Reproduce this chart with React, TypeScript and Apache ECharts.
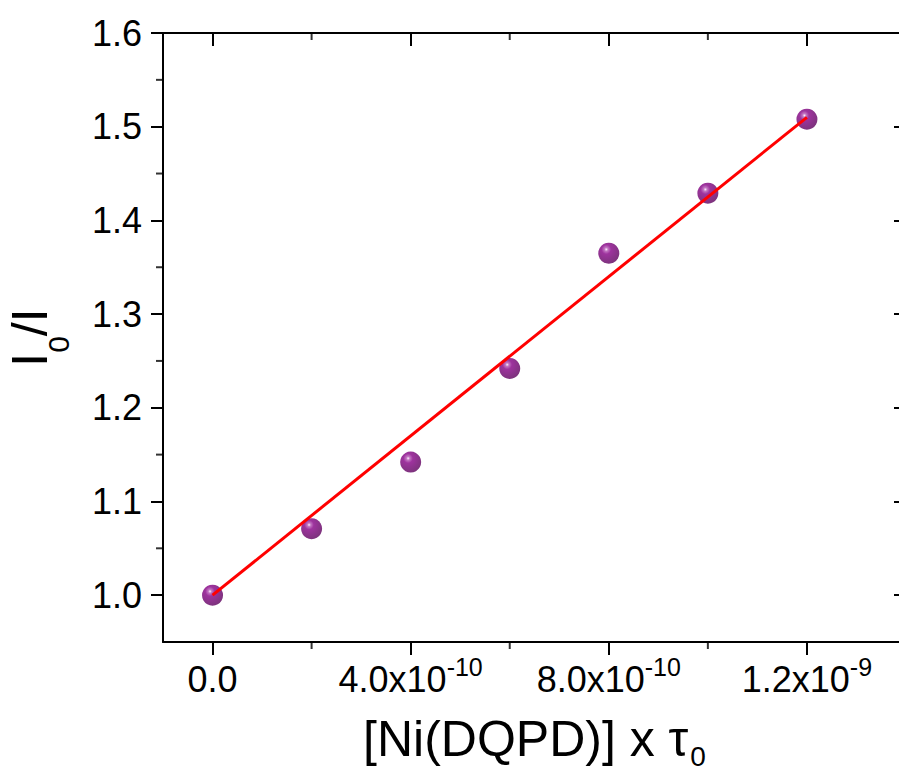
import React, { useEffect, useRef } from "react";
import * as echarts from "echarts";

// Data (x = [Ni(DQPD)] x tau0, y = I0/I)
const xValues = [0, 2e-10, 4e-10, 6e-10, 8e-10, 1.0e-9, 1.2e-9];
const yValues = [1.0, 1.071, 1.142, 1.242, 1.365, 1.429, 1.508];

// Linear fit endpoints
const fitX = [0, 1.2e-9];
const fitY = [1.0, 1.51];

// Axis ranges and ticks
const xRange = [-1e-10, 1.4e-9];
const yRange = [0.95, 1.6];
const xMajorTicks = [0, 4e-10, 8e-10, 1.2e-9];
const xMinorTicks = [2e-10, 6e-10, 1.0e-9];
const xTickMantissa = ["0.0", "4.0x10", "8.0x10", "1.2x10"];
const xTickExponent = ["", "-10", "-10", "-9"];
const yMajorTicks = [1.0, 1.1, 1.2, 1.3, 1.4, 1.5, 1.6];
const yMinorTicks = [1.05, 1.15, 1.25, 1.35, 1.45, 1.55];

const FONT = "'Liberation Sans', Arial, sans-serif";

export default function App() {
  const ref = useRef<HTMLDivElement>(null);

  useEffect(() => {
    if (!ref.current) return;
    const chart = echarts.init(ref.current, null, { renderer: "svg" });

    const lineStyle = { color: "#000", width: 2 };
    const MINOR = 7;

    const xLabelFormatter = (v: number) => {
      let idx = 0;
      let best = Infinity;
      xMajorTicks.forEach((t, i) => {
        const d = Math.abs(t - v);
        if (d < best) {
          best = d;
          idx = i;
        }
      });
      const m = xTickMantissa[idx];
      const e = xTickExponent[idx];
      return e ? `{m|${m}}{s|${e}}` : `{m|${m}}`;
    };

    const sphere = new echarts.graphic.RadialGradient(0.38, 0.32, 0.7, [
      { offset: 0, color: "#fbeefb" },
      { offset: 0.12, color: "#b455b4" },
      { offset: 0.32, color: "#850085" },
      { offset: 1, color: "#5c005c" },
    ]);

    const baseX = { type: "value", min: xRange[0], max: xRange[1], splitLine: { show: false } };
    const baseY = { type: "value", min: yRange[0], max: yRange[1], splitLine: { show: false } };

    const tickSeries = (data: number[][], size: number[], offset: number[]) => ({
      type: "scatter",
      xAxisIndex: 0,
      yAxisIndex: 0,
      clip: false,
      silent: true,
      symbol: "rect",
      symbolSize: size,
      symbolOffset: offset,
      itemStyle: { color: "#000" },
      data,
      z: 1,
    });

    const option: any = {
      animation: false,
      backgroundColor: "#fff",
      grid: {
        left: 163,
        top: 33,
        width: 743,
        height: 609,
        containLabel: false,
        outerBoundsMode: "none",
      },
      xAxis: [
        {
          ...baseX,
          position: "bottom",
          axisLine: { show: true, onZero: false, lineStyle },
          axisTick: { show: true, inside: false, length: 13, customValues: xMajorTicks, lineStyle },
          axisLabel: {
            show: true,
            customValues: xMajorTicks,
            margin: 19,
            formatter: xLabelFormatter,
            rich: {
              m: { fontFamily: FONT, fontSize: 36, color: "#000", lineHeight: 36, verticalAlign: "bottom" },
              s: { fontFamily: FONT, fontSize: 25, color: "#000", lineHeight: 25, verticalAlign: "bottom", padding: [0, 0, 18, 0] },
            },
          },
          name: "{m|[Ni(DQPD)] x τ}{s|0}",
          nameLocation: "middle",
          nameGap: 72,
          nameTextStyle: {
            rich: {
              m: { fontFamily: FONT, fontSize: 50, color: "#000", lineHeight: 50, verticalAlign: "top" },
              s: { fontFamily: FONT, fontSize: 28, color: "#000", lineHeight: 28, verticalAlign: "top", padding: [28, 0, 0, 2] },
            },
          },
        },
        {
          ...baseX,
          position: "top",
          axisLine: { show: true, onZero: false, lineStyle },
          axisTick: { show: true, inside: true, length: 13, customValues: xMajorTicks, lineStyle },
          axisLabel: { show: false },
        },
      ],
      yAxis: [
        {
          ...baseY,
          position: "left",
          axisLine: { show: true, onZero: false, lineStyle },
          axisTick: { show: true, inside: false, length: 12, customValues: yMajorTicks, lineStyle },
          axisLabel: {
            show: true,
            customValues: yMajorTicks,
            margin: 21,
            fontFamily: FONT,
            fontSize: 36,
            color: "#000",
            formatter: (v: number) => v.toFixed(1),
          },
          name: "{m|I}{s|0}{m|/I}",
          nameLocation: "middle",
          nameRotate: 90,
          nameGap: 108,
          nameTextStyle: {
            rich: {
              m: { fontFamily: FONT, fontSize: 50, color: "#000", lineHeight: 50, verticalAlign: "top" },
              s: { fontFamily: FONT, fontSize: 30, color: "#000", lineHeight: 30, verticalAlign: "top", padding: [38, 0, 0, 0] },
            },
          },
        },
        {
          ...baseY,
          position: "right",
          axisLine: { show: true, onZero: false, lineStyle },
          axisTick: { show: true, inside: true, length: 12, customValues: yMajorTicks, lineStyle },
          axisLabel: { show: false },
        },
      ],
      series: [
        // minor ticks: bottom (outward), top (inward), left (outward)
        tickSeries(xMinorTicks.map((v) => [v, yRange[0]]), [2, MINOR], [0, MINOR / 2]),
        tickSeries(xMinorTicks.map((v) => [v, yRange[1]]), [2, MINOR], [0, MINOR / 2]),
        tickSeries(yMinorTicks.map((v) => [xRange[0], v]), [MINOR, 2], [-MINOR / 2, 0]),
        {
          type: "scatter",
          xAxisIndex: 0,
          yAxisIndex: 0,
          data: xValues.map((x, i) => [x, yValues[i]]),
          symbol: "circle",
          symbolSize: 21,
          itemStyle: { color: sphere },
          z: 2,
        },
        {
          type: "line",
          xAxisIndex: 0,
          yAxisIndex: 0,
          data: fitX.map((x, i) => [x, fitY[i]]),
          showSymbol: false,
          symbol: "none",
          lineStyle: { color: "#ff0000", width: 3 },
          z: 3,
        },
      ],
    };

    chart.setOption(option);
    return () => chart.dispose();
  }, []);

  return (
    <div
      ref={ref}
      style={{ position: "absolute", left: 0, top: 0, width: 899, height: 774 }}
    />
  );
}
